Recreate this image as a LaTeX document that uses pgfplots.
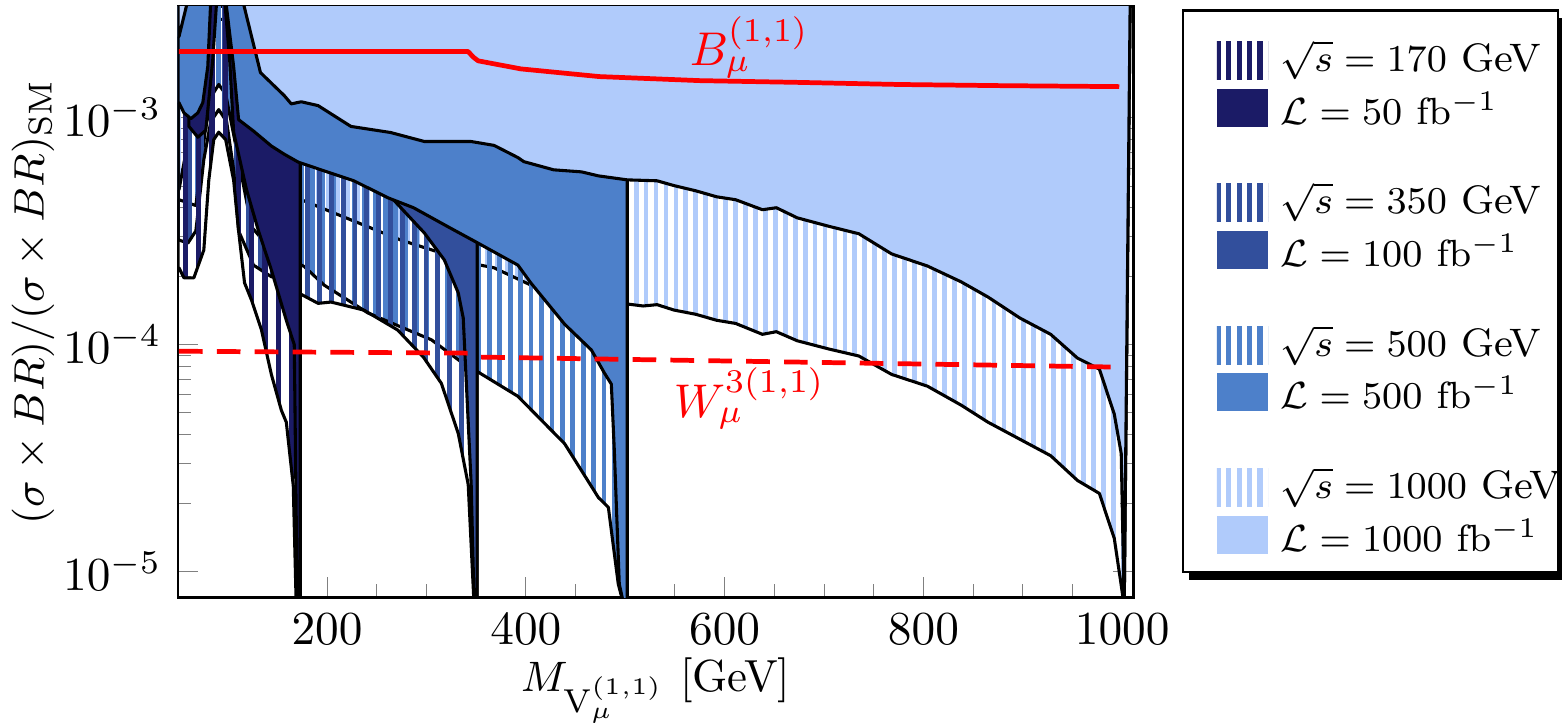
\documentclass[border=0pt]{standalone}
\usepackage{pgfplots}
\pgfplotsset{compat=1.18}
\usetikzlibrary{patterns.meta}
\definecolor{c1000}{HTML}{B0CBFB}
\definecolor{c500}{HTML}{4D80CA}
\definecolor{c350}{HTML}{324F9C}
\definecolor{c170}{HTML}{1B1B66}
\tikzset{
 h1000/.style={pattern={Lines[angle=90,distance=2.1pt,line width=1pt]},pattern color=c1000},
 h500/.style={pattern={Lines[angle=90,distance=2.2pt,line width=1pt]},pattern color=c500},
 h350/.style={pattern={Lines[angle=90,distance=2.5pt,line width=1pt]},pattern color=c350},
 h170/.style={pattern={Lines[angle=90,distance=2.8pt,line width=1.1pt]},pattern color=c170},
}
\begin{document}
\begin{tikzpicture}
\begin{axis}[
 at={(0,0)}, anchor=south west,
 width=201.8pt, height=124.9pt, scale only axis,
 ymode=log, xmin=50, xmax=1011, ymin=7.7e-6, ymax=3.1e-3,
 xtick={200,400,600,800,1000}, minor x tick num=3,
 ytick={1e-5,1e-4,1e-3},
 /pgf/number format/1000 sep={},
 axis line style={line width=0.6pt},
 xlabel={$M_{\mathrm{V}_\mu^{(1,1)}}$ [GeV]},
 ylabel={$(\sigma\times BR)/(\sigma\times BR)_{\mathrm{SM}}$},
 xlabel style={yshift=4pt},
 ylabel style={yshift=-5pt},
 label style={font=\fontsize{9.5}{11}\selectfont},
 every axis plot/.append style={line width=0.65pt, line join=round},
]
% hatched regions
\addplot[draw=black,h1000] coordinates {(50,0.481e-3)(51,0.481e-3)(83,2.71e-3)(103,2.71e-3)(123,0.723e-3)(174,0.435e-3)(274,0.289e-3)(352,0.225e-3)(368,0.218e-3)(405,0.183e-3)(436,0.165e-3)(476,0.154e-3)(502,0.151e-3)(518,0.148e-3)(532,0.150e-3)(549,0.142e-3)(571,0.136e-3)(592,0.128e-3)(611,0.124e-3)(638,0.111e-3)(652,0.114e-3)(673,0.104e-3)(705,0.0956e-3)(735,0.0891e-3)(768,0.0739e-3)(804,0.0656e-3)(838,0.0541e-3)(865,0.0455e-3)(897,0.0383e-3)(928,0.0324e-3)(955,0.0252e-3)(977,0.0221e-3)(992,0.0140e-3)(999,0.0087e-3)(1002,7e-6)(1008,3.3e-3)(50,3.3e-3)} --cycle;
\addplot[draw=black,h500] coordinates {(50,0.435e-3)(51,0.435e-3)(68,0.41e-3)(78,0.915e-3)(85,1.27e-3)(91,1.40e-3)(98,1.27e-3)(109,0.723e-3)(124,0.33e-3)(144,0.261e-3)(177,0.221e-3)(197,0.183e-3)(221,0.157e-3)(241,0.138e-3)(264,0.125e-3)(305,0.105e-3)(342,0.0796e-3)(352,0.0757e-3)(392,0.0592e-3)(439,0.0366e-3)(473,0.0212e-3)(483,0.0192e-3)(493,0.0088e-3)(499,7e-6)(502,7e-6)(502,3.3e-3)(50,3.3e-3)} --cycle;
\addplot[draw=black,h350] coordinates {(50,0.289e-3)(51,0.289e-3)(60,0.28e-3)(68,0.317e-3)(76,0.653e-3)(83,0.96e-3)(91,1.085e-3)(99,0.96e-3)(106,0.589e-3)(111,0.317e-3)(126,0.224e-3)(144,0.199e-3)(161,0.199e-3)(169,0.171e-3)(191,0.152e-3)(204,0.154e-3)(237,0.142e-3)(271,0.116e-3)(297,0.088e-3)(315,0.0675e-3)(332,0.0406e-3)(342,0.0242e-3)(348,7e-6)(351,7e-6)(351,3.3e-3)(50,3.3e-3)} --cycle;
\addplot[draw=black,h170] coordinates {(50,0.218e-3)(51,0.218e-3)(56,0.197e-3)(66,0.197e-3)(76,0.261e-3)(81,0.53e-3)(86,0.80e-3)(91,0.863e-3)(98,0.80e-3)(106,0.53e-3)(111,0.317e-3)(117,0.187e-3)(124,0.157e-3)(134,0.116e-3)(144,0.0738e-3)(154,0.0514e-3)(159,0.0455e-3)(166,0.0239e-3)(169,7e-6)(172,7e-6)(172,3.3e-3)(50,3.3e-3)} --cycle;
% solid regions
\addplot[draw=black,fill=c170] coordinates {(97,3.3e-3)(102,1.80e-3)(106,0.863e-3)(119,0.481e-3)(131,0.317e-3)(144,0.213e-3)(159,0.128e-3)(167,0.10e-3)(170,7e-6)(173,7e-6)(173,3.3e-3)} --cycle;
\addplot[draw=black,fill=c170] coordinates {(61,0.915e-3)(70,0.82e-3)(78,0.88e-3)(85,1.8e-3)(89,3.3e-3)(61,3.3e-3)} --cycle;
\addplot[draw=black,fill=c350] coordinates {(264,0.448e-3)(298,0.31e-3)(318,0.236e-3)(332,0.169e-3)(337,0.131e-3)(345,0.0242e-3)(348,7e-6)(351,7e-6)(351,3.3e-3)(264,3.3e-3)} --cycle;
\addplot[draw=black,fill=c500] coordinates {(50,1.165e-3)(51,1.165e-3)(56,1.05e-3)(63,0.99e-3)(70,1.05e-3)(75,1.165e-3)(80,1.68e-3)(83,3.3e-3)(98,3.3e-3)(106,1.68e-3)(111,0.98e-3)(126,0.873e-3)(144,0.75e-3)(157,0.69e-3)(171,0.637e-3)(191,0.595e-3)(227,0.527e-3)(261,0.444e-3)(287,0.401e-3)(322,0.330e-3)(350,0.283e-3)(392,0.224e-3)(405,0.187e-3)(439,0.123e-3)(466,0.0946e-3)(479,0.075e-3)(486,0.067e-3)(489,0.0342e-3)(494,0.0088e-3)(499,7e-6)(502,7e-6)(502,3.3e-3)(50,3.3e-3)} --cycle;
\addplot[draw=black,fill=c1000] coordinates {(50,2.276e-3)(51,2.276e-3)(60,3.3e-3)(115,3.3e-3)(133,1.58e-3)(157,1.25e-3)(164,1.15e-3)(174,1.175e-3)(191,1.13e-3)(224,0.915e-3)(264,0.86e-3)(298,0.785e-3)(345,0.785e-3)(368,0.755e-3)(392,0.667e-3)(398,0.64e-3)(428,0.589e-3)(456,0.577e-3)(473,0.554e-3)(502,0.532e-3)(532,0.527e-3)(549,0.502e-3)(571,0.476e-3)(592,0.448e-3)(611,0.435e-3)(638,0.393e-3)(652,0.401e-3)(673,0.362e-3)(705,0.332e-3)(735,0.308e-3)(768,0.251e-3)(804,0.222e-3)(838,0.189e-3)(865,0.162e-3)(897,0.131e-3)(928,0.111e-3)(955,0.0872e-3)(977,0.078e-3)(992,0.0494e-3)(999,0.0331e-3)(1002,7e-6)(1008,3.3e-3)(50,3.3e-3)} --cycle;
% red lines
\addplot[red,line width=1pt] coordinates {(51,1.955e-3)(342,1.955e-3)(347,1.85e-3)(352,1.78e-3)(395,1.64e-3)(474,1.517e-3)(575,1.456e-3)(675,1.43e-3)(776,1.40e-3)(876,1.384e-3)(997,1.37e-3)};
\addplot[red,line width=1pt,dash pattern=on 5pt off 3pt] coordinates {(51,0.0935e-3)(344,0.0917e-3)(354,0.0881e-3)(997,0.0796e-3)};
\node[red] at (axis cs:625,2.05e-3) {$B_\mu^{(1,1)}$};
\node[red] at (axis cs:625,0.058e-3) {$W_\mu^{3(1,1)}$};
\end{axis}
% legend
\fill[black] (213.5pt,3.6pt) rectangle (292.8pt,122.4pt);
\draw[fill=white,line width=0.5pt] (212.3pt,5.3pt) rectangle (291.6pt,124pt);
\foreach \c/\ya/\yb/\e/\l in {c170/113.5/103.3/170/50, c350/83.5/73.3/350/100, c500/53.2/43.3/500/500, c1000/23.2/13.1/1000/1000}{
 \fill[pattern={Lines[angle=90,distance=2.2pt,line width=1.1pt]},pattern color=\c] (219.5pt,\ya pt-4pt) rectangle (230.3pt,\ya pt+4pt);
 \fill[\c] (219.5pt,\yb pt-4pt) rectangle (230.3pt,\yb pt+4pt);
 \node[anchor=west,inner sep=0pt,font=\fontsize{8.4}{10}\selectfont] at (232.8pt,\ya pt) {$\sqrt{s}=\e$ GeV};
 \node[anchor=west,inner sep=0pt,font=\fontsize{8.4}{10}\selectfont] at (232.8pt,\yb pt) {$\mathcal{L}=\l\ \mathrm{fb}^{-1}$};
}
\pgfresetboundingbox
\path[use as bounding box] (-37.6pt,-26.4pt) rectangle (292.4pt,126.2pt);
\end{tikzpicture}
\end{document}
